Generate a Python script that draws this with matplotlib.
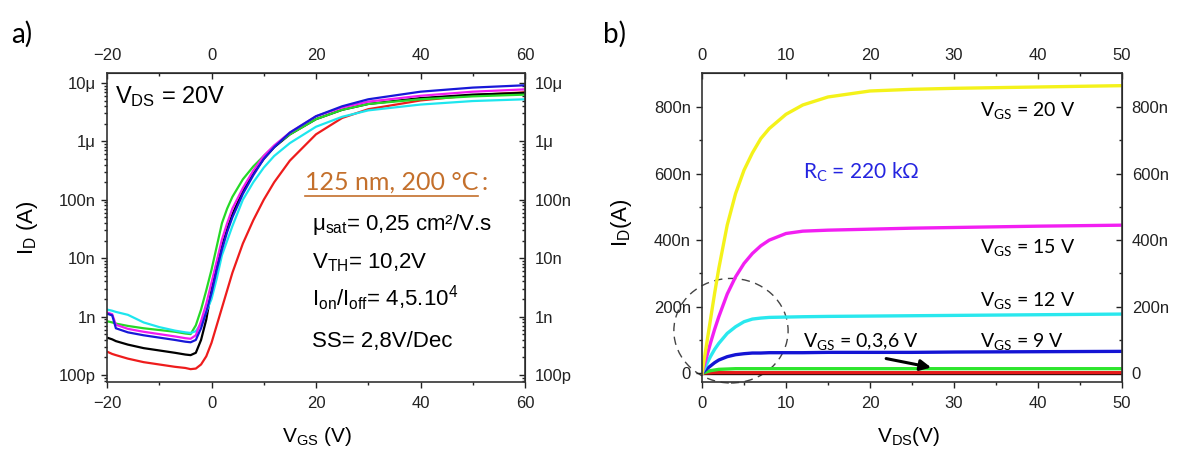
import numpy as np
import matplotlib
matplotlib.use('Agg')
import matplotlib.pyplot as plt
from matplotlib.patches import Ellipse
from matplotlib.lines import Line2D
from matplotlib.ticker import FixedLocator, FixedFormatter, LogLocator, NullFormatter, MultipleLocator

W, H = 1177, 453
plt.rcParams['font.family'] = ['Liberation Sans', 'DejaVu Sans']
plt.rcParams['mathtext.fontset'] = 'custom'
plt.rcParams['mathtext.rm'] = 'Liberation Sans'
plt.rcParams['mathtext.it'] = 'Liberation Sans:italic'
CAL = ['Lato', 'DejaVu Sans']

# ---- a) transfer curves, log10(I_D) ----
vgs = [-20, -19, -18.3, -16, -13, -10, -7, -5, -4, -3, -2, -1, 0, 1, 2, 3, 4, 6, 8, 10, 12, 15, 20, 25, 30, 40, 50, 60]
log_red = [-9.60, -9.64, -9.66, -9.72, -9.78, -9.82, -9.86, -9.88, -9.90, -9.89, -9.82, -9.68, -9.45, -9.15, -8.85, -8.55, -8.25, -7.75, -7.35, -7.0, -6.7, -6.33, -5.88, -5.6, -5.45, -5.3, -5.21, -5.16]
log_black = [-9.36, -9.39, -9.42, -9.48, -9.54, -9.58, -9.62, -9.65, -9.66, -9.62, -9.4, -9.05, -8.55, -8.15, -7.8, -7.5, -7.25, -6.85, -6.55, -6.3, -6.1, -5.88, -5.62, -5.46, -5.36, -5.26, -5.2, -5.17]
log_green = [-9.08, -9.1, -9.12, -9.16, -9.2, -9.23, -9.26, -9.29, -9.3, -9.15, -8.88, -8.55, -8.2, -7.8, -7.4, -7.15, -6.95, -6.65, -6.43, -6.25, -6.08, -5.88, -5.62, -5.46, -5.36, -5.28, -5.23, -5.2]
log_cyan = [-8.88, -8.9, -8.92, -8.97, -9.1, -9.18, -9.24, -9.27, -9.28, -9.25, -9.12, -8.92, -8.7, -8.35, -7.95, -7.7, -7.45, -7.0, -6.7, -6.45, -6.25, -6.03, -5.75, -5.58, -5.47, -5.37, -5.31, -5.28]
log_magenta = [-8.93, -8.96, -9.14, -9.21, -9.26, -9.3, -9.34, -9.37, -9.38, -9.32, -9.08, -8.78, -8.42, -8.05, -7.68, -7.4, -7.15, -6.8, -6.5, -6.25, -6.07, -5.85, -5.57, -5.42, -5.32, -5.22, -5.15, -5.11]
log_blue = [-8.95, -8.98, -9.2, -9.27, -9.32, -9.36, -9.4, -9.43, -9.44, -9.4, -9.2, -8.92, -8.6, -8.2, -7.85, -7.55, -7.3, -6.9, -6.58, -6.3, -6.1, -5.85, -5.57, -5.4, -5.28, -5.15, -5.08, -5.04]

# ---- b) output curves, I_D in nA ----
vds = [0, 0.5, 1, 1.5, 2, 3, 4, 5, 6, 7, 8, 10, 12, 15, 20, 25, 30, 40, 50]
id_20 = [0, 80, 160, 240, 315, 445, 540, 610, 662, 705, 735, 778, 806, 830, 848, 853, 856, 860, 864]
id_15 = [0, 45, 90, 132, 170, 238, 290, 330, 360, 383, 400, 420, 427, 430, 433, 436, 438, 442, 445]
id_12 = [0, 25, 50, 72, 90, 120, 140, 155, 163, 166, 168, 169, 170, 171, 172, 173, 174, 176, 178]
id_9 = [0, 12, 22, 32, 40, 50, 56, 59, 61, 61, 62, 62, 62, 63, 63, 63, 64, 65, 66]
id_6 = [0, 4, 8, 10, 12, 13, 14, 14, 14, 14, 14, 14, 14, 14, 14, 14, 14, 14, 14]
id_3 = [0, 1, 1.5, 2, 2, 2, 2, 2, 2, 2, 2, 2, 2, 2, 2, 2, 2, 2, 2]
id_0 = [0, 0, 0, 0, 0, 0, 0, 0, 0, 0, 0, 0, 0, 0, 0, 0, 0, 0, 0]

vgs_ticks = [-20, 0, 20, 40, 60]
vgs_minor = [-10, 10, 30, 50]
vds_ticks = [0, 10, 20, 30, 40, 50]
vds_minor = [5, 15, 25, 35, 45]
log_ticks = [1e-10, 1e-9, 1e-8, 1e-7, 1e-6, 1e-5]
log_labels = ['100p', '1n', '10n', '100n', '1μ', '10μ']
lin_ticks = [0, 200e-9, 400e-9, 600e-9, 800e-9]
lin_labels = ['0', '200n', '400n', '600n', '800n']
lin_minor = [100e-9, 300e-9, 500e-9, 700e-9]


def px(x, y):
    return x / W, 1 - y / H


def style_ticks(ax, sx, sy):
    ax.tick_params(which='both', direction='out', labelsize=12, width=1, colors='#222222')
    ax.tick_params(which='major', length=4)
    ax.tick_params(which='minor', length=2.5)
    ax.tick_params(axis='y', pad=4)
    ax.tick_params(axis='x', pad=6)
    for s in (sx, sy):
        s.tick_params(which='both', direction='in', labelsize=12, width=1, colors='#222222')
        s.tick_params(which='major', length=4, pad=7)
        s.tick_params(which='minor', length=2.5)
    for sp in ax.spines.values():
        sp.set_linewidth(1.2)
        sp.set_color('#333333')


fig = plt.figure(figsize=(W / 100, H / 100), dpi=100)

# ---------- panel a ----------
ax1 = fig.add_axes([107 / W, 1 - 382 / H, 418 / W, 309 / H])
v = np.array(vgs)
for arr, c in [(log_red, '#ee1c1c'), (log_black, 'black'), (log_green, '#27d827'),
               (log_cyan, '#1ee6ee'), (log_magenta, '#f01cf0'), (log_blue, '#1818d8')]:
    ax1.plot(v, 10 ** np.array(arr), color=c, lw=1.6)
ax1.set_yscale('log')
ax1.set_xlim(-20, 60)
ax1.set_ylim(10 ** -10.12, 10 ** -4.83)
ax1.xaxis.set_major_locator(FixedLocator(vgs_ticks))
ax1.xaxis.set_minor_locator(FixedLocator(vgs_minor))
ax1.yaxis.set_major_locator(FixedLocator(log_ticks))
ax1.yaxis.set_major_formatter(FixedFormatter(log_labels))
ax1.yaxis.set_minor_locator(LogLocator(base=10, subs=np.arange(2, 10)))
ax1.yaxis.set_minor_formatter(NullFormatter())

top1 = ax1.secondary_xaxis('top')
top1.xaxis.set_major_locator(FixedLocator(vgs_ticks))
top1.xaxis.set_minor_locator(FixedLocator(vgs_minor))
right1 = ax1.secondary_yaxis('right')
right1.yaxis.set_major_locator(FixedLocator(log_ticks))
right1.yaxis.set_major_formatter(FixedFormatter(log_labels))
right1.yaxis.set_minor_locator(LogLocator(base=10, subs=np.arange(2, 10)))
right1.yaxis.set_minor_formatter(NullFormatter())
style_ticks(ax1, top1, right1)

# ---------- panel b ----------
ax2 = fig.add_axes([702 / W, 1 - 382 / H, 420 / W, 309 / H])
d = np.array(vds)
for arr, c in [(id_0, 'black'), (id_3, '#e61a1a'), (id_6, '#2ee62e'), (id_9, '#1414d4'),
               (id_12, '#29e8ee'), (id_15, '#f21ff2'), (id_20, '#f4f21a')]:
    ax2.plot(d, np.array(arr) * 1e-9, color=c, lw=2.4)
ax2.set_xlim(0, 50)
ax2.set_ylim(-26e-9, 902e-9)
ax2.xaxis.set_major_locator(FixedLocator(vds_ticks))
ax2.xaxis.set_minor_locator(FixedLocator(vds_minor))
ax2.yaxis.set_major_locator(FixedLocator(lin_ticks))
ax2.yaxis.set_major_formatter(FixedFormatter(lin_labels))
ax2.yaxis.set_minor_locator(FixedLocator(lin_minor))

top2 = ax2.secondary_xaxis('top')
top2.xaxis.set_major_locator(FixedLocator(vds_ticks))
top2.xaxis.set_minor_locator(FixedLocator(vds_minor))
right2 = ax2.secondary_yaxis('right')
right2.yaxis.set_major_locator(FixedLocator(lin_ticks))
right2.yaxis.set_major_formatter(FixedFormatter(lin_labels))
right2.yaxis.set_minor_locator(FixedLocator(lin_minor))
style_ticks(ax2, top2, right2)

# dashed circle and arrow
ax2.add_patch(Ellipse((3.45, 128e-9), 13.6, 314e-9, fill=False, ls=(0, (6, 4)),
                      lw=1, color='#444444', clip_on=False))
ax2.annotate('', xy=(27.6, 16e-9), xytext=(21.6, 46e-9),
             arrowprops=dict(arrowstyle='-|>', color='black', lw=2.2, mutation_scale=16))

# ---------- labels and annotations ----------
fig.text(*px(11, 34), 'a)', fontsize=20, family=CAL, va='center', ha='left')
fig.text(*px(603, 34), 'b)', fontsize=20, family=CAL, va='center', ha='left')

fig.text(*px(27, 228), r'$\mathregular{I_D}$ (A)', rotation=90, fontsize=16, va='center', ha='center')
fig.text(*px(317, 436), r'$\mathregular{V_{GS}}$ (V)', fontsize=15, va='center', ha='center')
fig.text(*px(622, 223), r'$\mathregular{I_D}$(A)', rotation=90, fontsize=16, va='center', ha='center')
fig.text(*px(909, 436), r'$\mathregular{V_{DS}}$(V)', fontsize=15, va='center', ha='center')

fig.text(*px(115, 103), r'$\mathregular{V_{DS}}$ = 20V', fontsize=17, va='baseline', ha='left')

t_title = fig.text(*px(305, 190), '125 nm, 200 °C', fontsize=18, family=CAL,
                   color='#c4702c', va='baseline', ha='left')
fig.text(*px(312, 230), r'$\mathregular{\mu_{sat}}$= 0,25 cm²/V.s', fontsize=16, va='baseline', ha='left')
fig.text(*px(312, 268), r'$\mathregular{V_{TH}}$= 10,2V', fontsize=16, va='baseline', ha='left')
fig.text(*px(312, 306), r'$\mathregular{I_{on}/I_{off}}$= 4,5.10$\mathregular{^4}$', fontsize=16, va='baseline', ha='left')
fig.text(*px(312, 347), 'SS= 2,8V/Dec', fontsize=16, va='baseline', ha='left')

fig.text(*px(980, 116), r'$\mathregular{V_{GS}}$ = 20 V', fontsize=14, family=CAL, va='baseline', ha='left')
fig.text(*px(803, 179), r'$\mathregular{R_C}$ = 220 kΩ', fontsize=15, family=CAL, color='#2424e0', va='baseline', ha='left')
fig.text(*px(980, 253), r'$\mathregular{V_{GS}}$ = 15 V', fontsize=14, family=CAL, va='baseline', ha='left')
fig.text(*px(980, 306), r'$\mathregular{V_{GS}}$ = 12 V', fontsize=14, family=CAL, va='baseline', ha='left')
fig.text(*px(980, 347), r'$\mathregular{V_{GS}}$ = 9 V', fontsize=14, family=CAL, va='baseline', ha='left')
fig.text(*px(803, 347), r'$\mathregular{V_{GS}}$ = 0,3,6 V', fontsize=14, family=CAL, va='baseline', ha='left')

# underline the orange heading and put the colon after it
fig.canvas.draw()
bb = t_title.get_window_extent()
fig.text((bb.x1 + 3) / W, 1 - 190 / H, ':', fontsize=18, family=CAL, color='#c4702c',
         va='baseline', ha='left')
fig.add_artist(Line2D([bb.x0 / W, bb.x1 / W], [(bb.y0 - 2) / H, (bb.y0 - 2) / H],
                      color='#c4702c', lw=1.2))

fig.savefig('out.png', dpi=100)
